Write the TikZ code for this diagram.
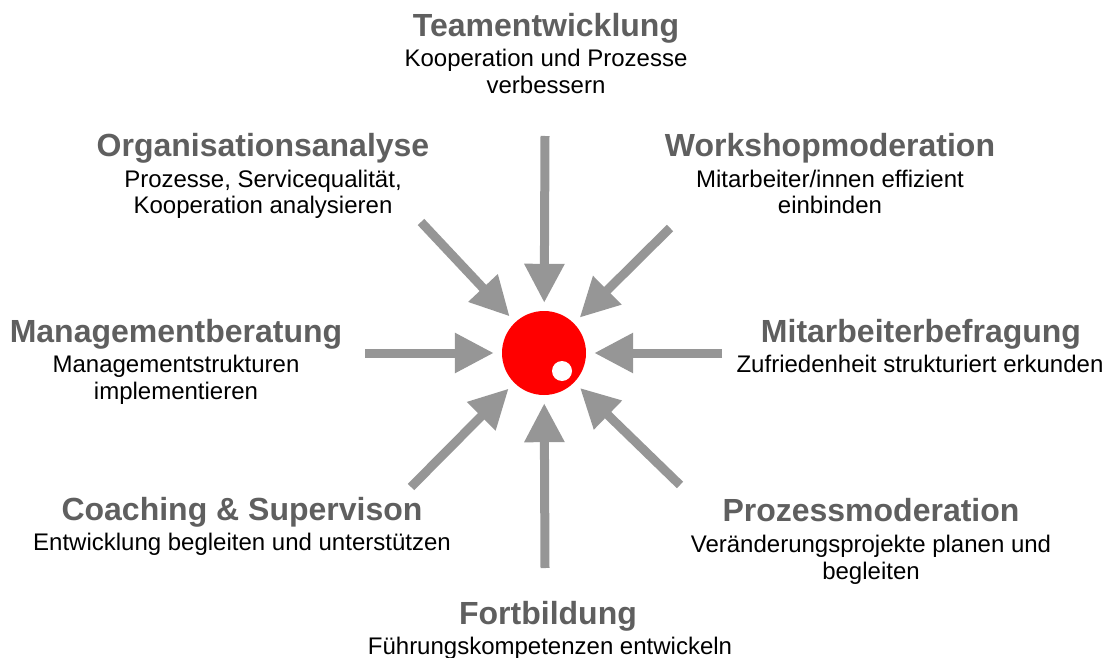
\documentclass[tikz,border=0pt]{standalone}
\usepackage{fontspec}
\setmainfont{Liberation Sans}
\usetikzlibrary{arrows.meta}
\definecolor{titlegray}{HTML}{5F5F5F}
\definecolor{arrowgray}{HTML}{969696}
\definecolor{dotred}{HTML}{FF0000}
\tikzset{
  ttl/.style={anchor=base, inner sep=0pt, text=titlegray, font=\fontsize{32}{36}\selectfont\bfseries},
  sub/.style={anchor=base, inner sep=0pt, text=black, font=\fontsize{24}{28}\selectfont},
  inarrow/.style={draw=arrowgray, line width=9pt, -{Triangle[width=38pt,length=39pt]}, shorten >=8pt}
}
\begin{document}
\begin{tikzpicture}[x=1pt,y=-1pt]
\useasboundingbox (0,0) rectangle (1117,658);
% centre
\node[circle, fill=dotred, minimum size=84pt, inner sep=0pt] (c) at (544,353) {};
\node[circle, fill=white, minimum size=20pt, inner sep=0pt] (w) at (562,371) {};
% arrow tails
\coordinate (aT) at (545,136);
\coordinate (aTL) at (421,222);
\coordinate (aTR) at (670,228);
\coordinate (aL) at (365,353);
\coordinate (aR) at (722,353);
\coordinate (aBL) at (411,487);
\coordinate (aB) at (545,568);
\coordinate (aBR) at (680,485);
\foreach \a in {aT,aTL,aTR,aL,aR,aBL,aB,aBR}{
  \draw[inarrow] (\a) -- (c);
}
% labels
\node[ttl] (t1) at (546,37) {Teamentwicklung};
\node[sub] (t1a) at (546,67) {Kooperation und Prozesse};
\node[sub] (t1b) at (546,94) {verbessern};

\node[ttl] (t2) at (263,157) {Organisationsanalyse};
\node[sub] (t2a) at (263,187) {Prozesse, Servicequalität,};
\node[sub] (t2b) at (263,214) {Kooperation analysieren};

\node[ttl] (t3) at (830,157) {Workshopmoderation};
\node[sub] (t3a) at (830,187) {Mitarbeiter/innen effizient};
\node[sub] (t3b) at (830,214) {einbinden};

\node[ttl] (t4) at (176,342) {Managementberatung};
\node[sub] (t4a) at (176,372) {Managementstrukturen};
\node[sub] (t4b) at (176,399) {implementieren};

\node[ttl] (t5) at (921,342) {Mitarbeiterbefragung};
\node[sub] (t5a) at (920,372) {Zufriedenheit strukturiert erkunden};

\node[ttl] (t6) at (242,520) {Coaching \& Supervison};
\node[sub] (t6a) at (242,550) {Entwicklung begleiten und unterstützen};

\node[ttl] (t7) at (871,521) {Prozessmoderation};
\node[sub] (t7a) at (871,552) {Veränderungsprojekte planen und};
\node[sub] (t7b) at (871,579) {begleiten};

\node[ttl] (t8) at (548,624) {Fortbildung};
\node[sub] (t8a) at (550,654) {Führungskompetenzen entwickeln};
\end{tikzpicture}
\end{document}
